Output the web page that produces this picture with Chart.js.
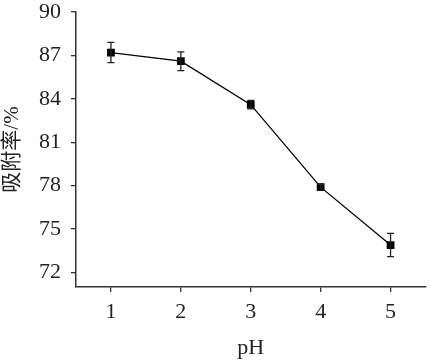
<!DOCTYPE html>
<html>
<head>
<meta charset="utf-8">
<script src="https://cdn.jsdelivr.net/npm/chart.js@4"></script>
<style>
  html, body { margin: 0; padding: 0; background: #fff; }
  #wrap { width: 431px; height: 361px; }
</style>
</head>
<body>
<div id="wrap"><canvas id="phChart" width="431" height="361"></canvas></div>
<script>
// data
const phValues = [1, 2, 3, 4, 5];
const adsorption = [87.2, 86.6, 83.6, 77.9, 73.9];
const errors = [0.7, 0.65, 0.3, 0.2, 0.8];
const yTicks = [72, 75, 78, 81, 84, 87, 90];
const xTicks = [1, 2, 3, 4, 5];

const fontFamily = "'Liberation Serif', 'Times New Roman', 'Noto Sans CJK SC', serif";

// error bars drawn through the chart's scales
const errorBars = {
  id: "errorBars",
  afterDatasetsDraw(chart) {
    const { ctx, scales: { x, y } } = chart;
    ctx.save();
    ctx.strokeStyle = "#222";
    ctx.lineWidth = 1.3;
    phValues.forEach((p, i) => {
      const px = x.getPixelForValue(p);
      const top = y.getPixelForValue(adsorption[i] + errors[i]);
      const bot = y.getPixelForValue(adsorption[i] - errors[i]);
      ctx.beginPath();
      ctx.moveTo(px, top); ctx.lineTo(px, bot);
      ctx.moveTo(px - 3.5, top); ctx.lineTo(px + 3.5, top);
      ctx.moveTo(px - 3.5, bot); ctx.lineTo(px + 3.5, bot);
      ctx.stroke();
    });
    ctx.restore();
  }
};

new Chart(document.getElementById("phChart").getContext("2d"), {
  type: "line",
  data: {
    datasets: [{
      data: phValues.map((p, i) => ({ x: p, y: adsorption[i] })),
      borderColor: "#000",
      backgroundColor: "#000",
      borderWidth: 1.3,
      pointStyle: "rect",
      pointRadius: 5.5,
      pointBorderWidth: 0,
      tension: 0
    }]
  },
  options: {
    responsive: false,
    animation: false,
    layout: { padding: { top: 12, right: 3, left: 0, bottom: 0 } },
    plugins: { legend: { display: false }, tooltip: { enabled: false } },
    scales: {
      x: {
        type: "linear",
        min: 0.5,
        max: 5.5,
        afterBuildTicks: (s) => { s.ticks = xTicks.map(v => ({ value: v })); },
        afterFit: (s) => { s.height = 74; s.paddingLeft = 0; s.paddingRight = 0; },
        grid: { drawOnChartArea: false, drawTicks: true, tickLength: 5, color: "#333", lineWidth: 1.3 },
        border: { display: true, color: "#333", width: 1.5 },
        ticks: { color: "#222", padding: 7, font: { family: fontFamily, size: 22 } },
        title: { display: true, text: "pH", color: "#222", padding: { top: 0, bottom: 0 }, font: { family: fontFamily, size: 22 } }
      },
      y: {
        min: 71,
        max: 90,
        afterBuildTicks: (s) => { s.ticks = yTicks.map(v => ({ value: v })); },
        afterFit: (s) => { s.width = 76; s.paddingTop = 0; s.paddingBottom = 0; },
        grid: { drawOnChartArea: false, drawTicks: true, tickLength: 5, color: "#333", lineWidth: 1.3 },
        border: { display: true, color: "#333", width: 1.5 },
        ticks: { color: "#222", padding: 10, font: { family: fontFamily, size: 22 } },
        title: { display: true, text: "吸附率/%", color: "#222", padding: { top: 0, bottom: 0 }, font: { family: fontFamily, size: 21 } }
      }
    }
  },
  plugins: [errorBars]
});
</script>
</body>
</html>
